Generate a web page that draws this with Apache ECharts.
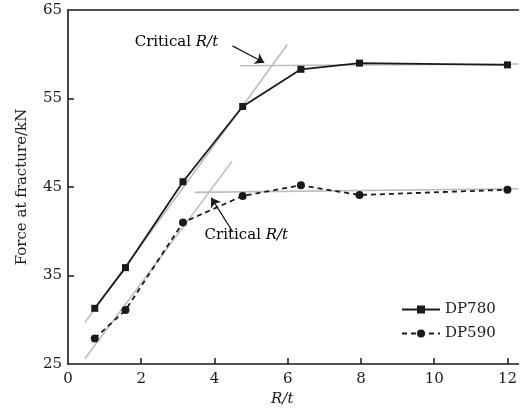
<!DOCTYPE html>
<html><head><meta charset="utf-8">
<script src="https://cdn.jsdelivr.net/npm/echarts@6/dist/echarts.min.js"></script>
<style>html,body{margin:0;padding:0;background:#fff}#c{width:520px;height:412px}</style>
</head><body><div id="c"></div>
<script>
const rt = [0.73, 1.57, 3.14, 4.77, 6.36, 7.96, 12];
const dp780 = [31.3, 35.9, 45.6, 54.1, 58.3, 59.0, 58.8];
const dp590 = [27.9, 31.1, 41.0, 44.0, 45.2, 44.1, 44.7];
const fit780Steep = [[0.46, 29.7], [5.99, 61.1]];
const fit780Flat = [[4.7, 58.7], [12.3, 58.9]];
const fit590Steep = [[0.46, 25.6], [4.48, 47.9]];
const fit590Flat = [[3.46, 44.4], [12.3, 44.8]];
const xTicks = [0, 2, 4, 6, 8, 10, 12];
const yTicks = [25, 35, 45, 55, 65];

const font = 'DejaVu Serif';
const ink = '#1a1a1a';
const gray = '#bdbdbd';
const pairs = (xs, ys) => xs.map((x, i) => [x, ys[i]]);
const fitSeries = d => ({
  type: 'line', data: d, symbol: 'none', silent: true, z: 1,
  lineStyle: { color: gray, width: 1.6 }, legendHoverLink: false
});
const critLabel = {
  show: true, position: 'right', distance: 0,
  formatter: 'Critical {i|R/t}',
  fontFamily: font, fontSize: 15, color: '#000', opacity: 1,
  rich: { i: { fontFamily: font, fontStyle: 'italic', fontSize: 15, color: '#000' } }
};

const chart = echarts.init(document.getElementById('c'));
chart.setOption({
  animation: false,
  grid: { left: 68, right: 0, top: 10, bottom: 46 },
  xAxis: [{
    type: 'value', min: 0, max: 12.3, interval: 2,
    axisLine: { lineStyle: { color: ink, width: 1.6 } },
    axisTick: { inside: true, length: 6, customValues: xTicks.slice(1), lineStyle: { color: ink, width: 1.5 } },
    axisLabel: { customValues: xTicks, fontFamily: font, fontSize: 15, color: ink, margin: 8 },
    splitLine: { show: false },
    name: 'R/t', nameLocation: 'middle', nameGap: 24,
    nameTextStyle: { fontFamily: font, fontStyle: 'italic', fontSize: 15, color: ink, padding: [0, 22, 0, 0] }
  }, {
    type: 'value', position: 'top', min: 0, max: 12.3,
    axisLine: { show: true, lineStyle: { color: ink, width: 1.6 } },
    axisTick: { show: false }, axisLabel: { show: false }, splitLine: { show: false }
  }],
  yAxis: {
    type: 'value', min: 25, max: 65, interval: 10,
    axisLine: { show: true, lineStyle: { color: ink, width: 1.6 } },
    axisTick: { show: true, inside: true, length: 6, customValues: yTicks.slice(1, 4), lineStyle: { color: ink, width: 1.5 } },
    axisLabel: { customValues: yTicks, fontFamily: font, fontSize: 15, color: ink, margin: 6 },
    splitLine: { show: false },
    name: 'Force at fracture/kN', nameLocation: 'middle', nameGap: 38,
    nameTextStyle: { fontFamily: font, fontSize: 15, color: ink }
  },
  legend: {
    data: ['DP780', 'DP590'], left: 396, top: 297, orient: 'vertical',
    itemWidth: 38, itemHeight: 10, itemGap: 9,
    textStyle: { fontFamily: font, fontSize: 15, color: ink }
  },
  series: [
    fitSeries(fit780Steep), fitSeries(fit780Flat),
    fitSeries(fit590Steep), fitSeries(fit590Flat),
    {
      name: 'DP780', type: 'line', data: pairs(rt, dp780), z: 3,
      symbol: 'rect', symbolSize: 7,
      itemStyle: { color: ink }, lineStyle: { color: ink, width: 1.8 }
    },
    {
      name: 'DP590', type: 'line', data: pairs(rt, dp590), z: 3,
      symbol: 'circle', symbolSize: 8,
      itemStyle: { color: ink }, lineStyle: { color: ink, width: 1.8, type: [5, 4] }
    },
    {
      type: 'scatter', silent: true, symbolSize: 0, z: 4,
      itemStyle: { opacity: 1, color: '#000' },
      data: [[1.82, 61.4], [3.73, 39.56]],
      label: critLabel,
      markLine: {
        silent: true, symbol: ['none', 'arrow'], symbolSize: 9,
        label: { show: false },
        itemStyle: { color: ink },
        lineStyle: { color: ink, width: 1.2, type: 'solid', opacity: 1 },
        data: [
          [{ coord: [4.49, 60.95] }, { coord: [5.36, 59.05] }],
          [{ coord: [4.49, 40.0] }, { coord: [3.91, 43.8] }]
        ]
      }
    }
  ]
});
</script></body></html>
